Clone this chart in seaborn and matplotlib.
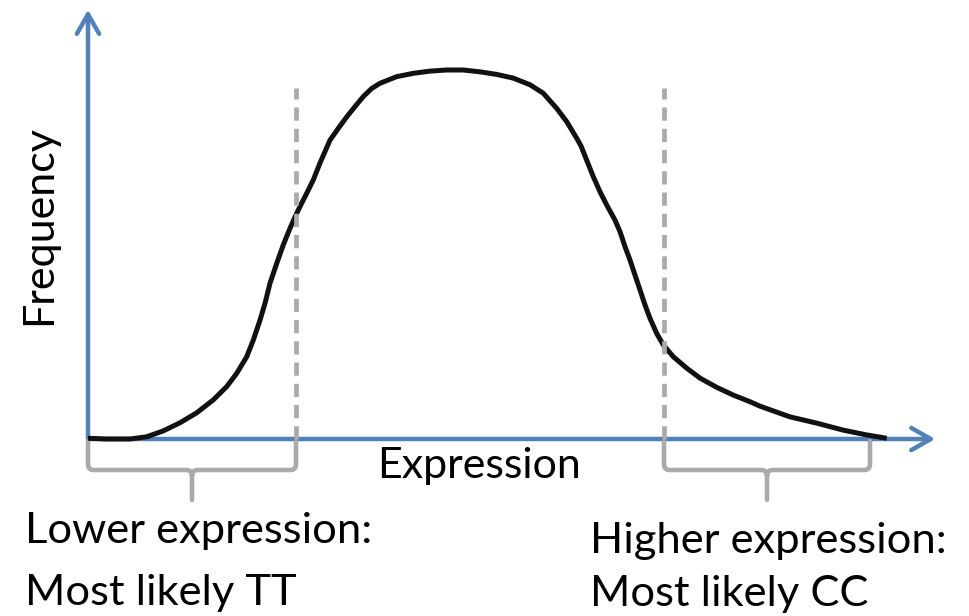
import numpy as np
import matplotlib
matplotlib.use("Agg")
import matplotlib.pyplot as plt
from matplotlib.path import Path
from matplotlib.patches import PathPatch
import seaborn as sns

# ---- data ----
expression = [0.0, 2.34, 5.25, 7.34, 9.41, 11.5, 13.59, 15.66, 17.34, 18.59,
              19.84, 20.66, 21.5, 22.13, 22.75, 23.59, 24.41, 25.25, 25.88,
              26.5, 27.34, 28.16, 29.0, 30.25, 31.29, 32.34, 33.38, 34.41,
              35.46, 36.5, 38.59, 40.66, 42.75, 44.84, 46.91, 49.0, 51.09,
              53.16, 55.25, 56.91, 58.59, 59.84, 61.09, 61.63, 63.16, 64.0,
              64.84, 65.88, 66.5, 67.13, 67.75, 68.38, 69.0, 69.63, 70.25,
              71.09, 71.91, 73.16, 74.84, 76.5, 78.59, 80.66, 82.75, 84.0,
              87.75, 91.09, 94.41, 97.34, 99.84]
frequency = [0.2, 0.0, 0.0, 0.6, 2.2, 4.4, 7.1, 10.6, 14.2, 17.8,
             22.3, 26.8, 32.2, 36.8, 42.2, 47.6, 52.6, 57.1, 60.2,
             63.0, 66.6, 70.2, 74.8, 81.0, 84.2, 87.3, 90.1, 92.8,
             95.0, 96.4, 98.2, 99.1, 99.7, 100.0, 100.0, 99.5, 98.8,
             97.8, 96.0, 93.7, 89.6, 86.0, 81.5, 79.4, 71.1, 67.0,
             63.4, 59.3, 56.2, 52.1, 48.5, 44.4, 40.4, 36.3, 32.7,
             28.6, 25.5, 22.3, 19.2, 16.5, 14.0, 11.9, 10.1, 8.9,
             6.0, 4.3, 2.4, 1.1, 0.2]

low_cut = 26.0
high_cut = 72.0
x_end = 97.75          # right end of the upper brace
cut_top = 95.0         # height of the dashed cut lines

low_label = ["Lower expression:", "Most likely TT"]
high_label = ["Higher expression:", "Most likely CC"]

BLUE = "#4F81BD"
GREY = "#AAAAAA"
INK = "#111111"

sns.set_theme(style="white")
plt.rcParams["font.family"] = ["Lato", "DejaVu Sans"]

fig = plt.figure(figsize=(9.69, 6.16), dpi=100)
ax = fig.add_axes([0, 0, 1, 1])
# origin of the drawing sits at pixel (88, 439); 8 px per x unit, 3.69 px per y unit
ax.set_xlim(-88 / 8, (969 - 88) / 8)
ax.set_ylim((439 - 616) / 3.69, 439 / 3.69)
ax.axis("off")

# axes drawn as arrows
arrow = dict(arrowstyle="->,head_length=1.4,head_width=0.8", lw=3.2, color=BLUE,
             shrinkA=0, shrinkB=0, mutation_scale=10, capstyle="round")
ax.annotate("", xy=(0, 116.3), xytext=(0, 0), arrowprops=arrow, zorder=1)
ax.annotate("", xy=(105.9, 0), xytext=(0, 0), arrowprops=arrow, zorder=1)

# the distribution curve
sns.lineplot(x=expression, y=frequency, ax=ax, color=INK, lw=3.6,
             estimator=None, zorder=2)
curve = ax.lines[-1]
curve.set_solid_capstyle("butt")
curve.set_solid_joinstyle("round")

# cut-off lines
ax.vlines([low_cut, high_cut], 0, cut_top, colors=GREY, lw=3.4,
          linestyles=[(0, (2.8, 1.7))], zorder=3)


def brace(x0, x1, top=-0.6, mid=-8.4, tip=-16.5, rx=0.7, ry=1.6):
    xm = (x0 + x1) / 2
    verts = [(x0, top), (x0, mid + ry), (x0, mid), (x0 + rx, mid),
             (xm - rx, mid), (xm, mid), (xm, mid - ry), (xm, tip),
             (x1, top), (x1, mid + ry), (x1, mid), (x1 - rx, mid),
             (xm + rx, mid), (xm, mid), (xm, mid - ry)]
    codes = [Path.MOVETO, Path.LINETO, Path.CURVE3, Path.CURVE3,
             Path.LINETO, Path.CURVE3, Path.CURVE3, Path.LINETO,
             Path.MOVETO, Path.LINETO, Path.CURVE3, Path.CURVE3,
             Path.LINETO, Path.CURVE3, Path.CURVE3]
    ax.add_patch(PathPatch(Path(verts, codes), fill=False, edgecolor=GREY,
                           lw=3.3, capstyle="round", joinstyle="round"))


brace(0, low_cut)
brace(high_cut, x_end)

# labels
ax.text(48.9, -10.6, "Expression", fontsize=31, ha="center", va="baseline", color="black")
ax.text(-6.1, 57.9, "Frequency", fontsize=31, rotation=90, ha="center", va="center", color="black")

ax.text(-7.9, -28.2, low_label[0], fontsize=31.3, ha="left", va="baseline", color="black")
ax.text(-7.9, -45.0, low_label[1], fontsize=31.3, ha="left", va="baseline", color="black")
ax.text(62.75, -30.9, high_label[0], fontsize=31.3, ha="left", va="baseline", color="black")
ax.text(62.75, -45.3, high_label[1], fontsize=31.3, ha="left", va="baseline", color="black")

fig.savefig("out.png", dpi=100, facecolor="white")
